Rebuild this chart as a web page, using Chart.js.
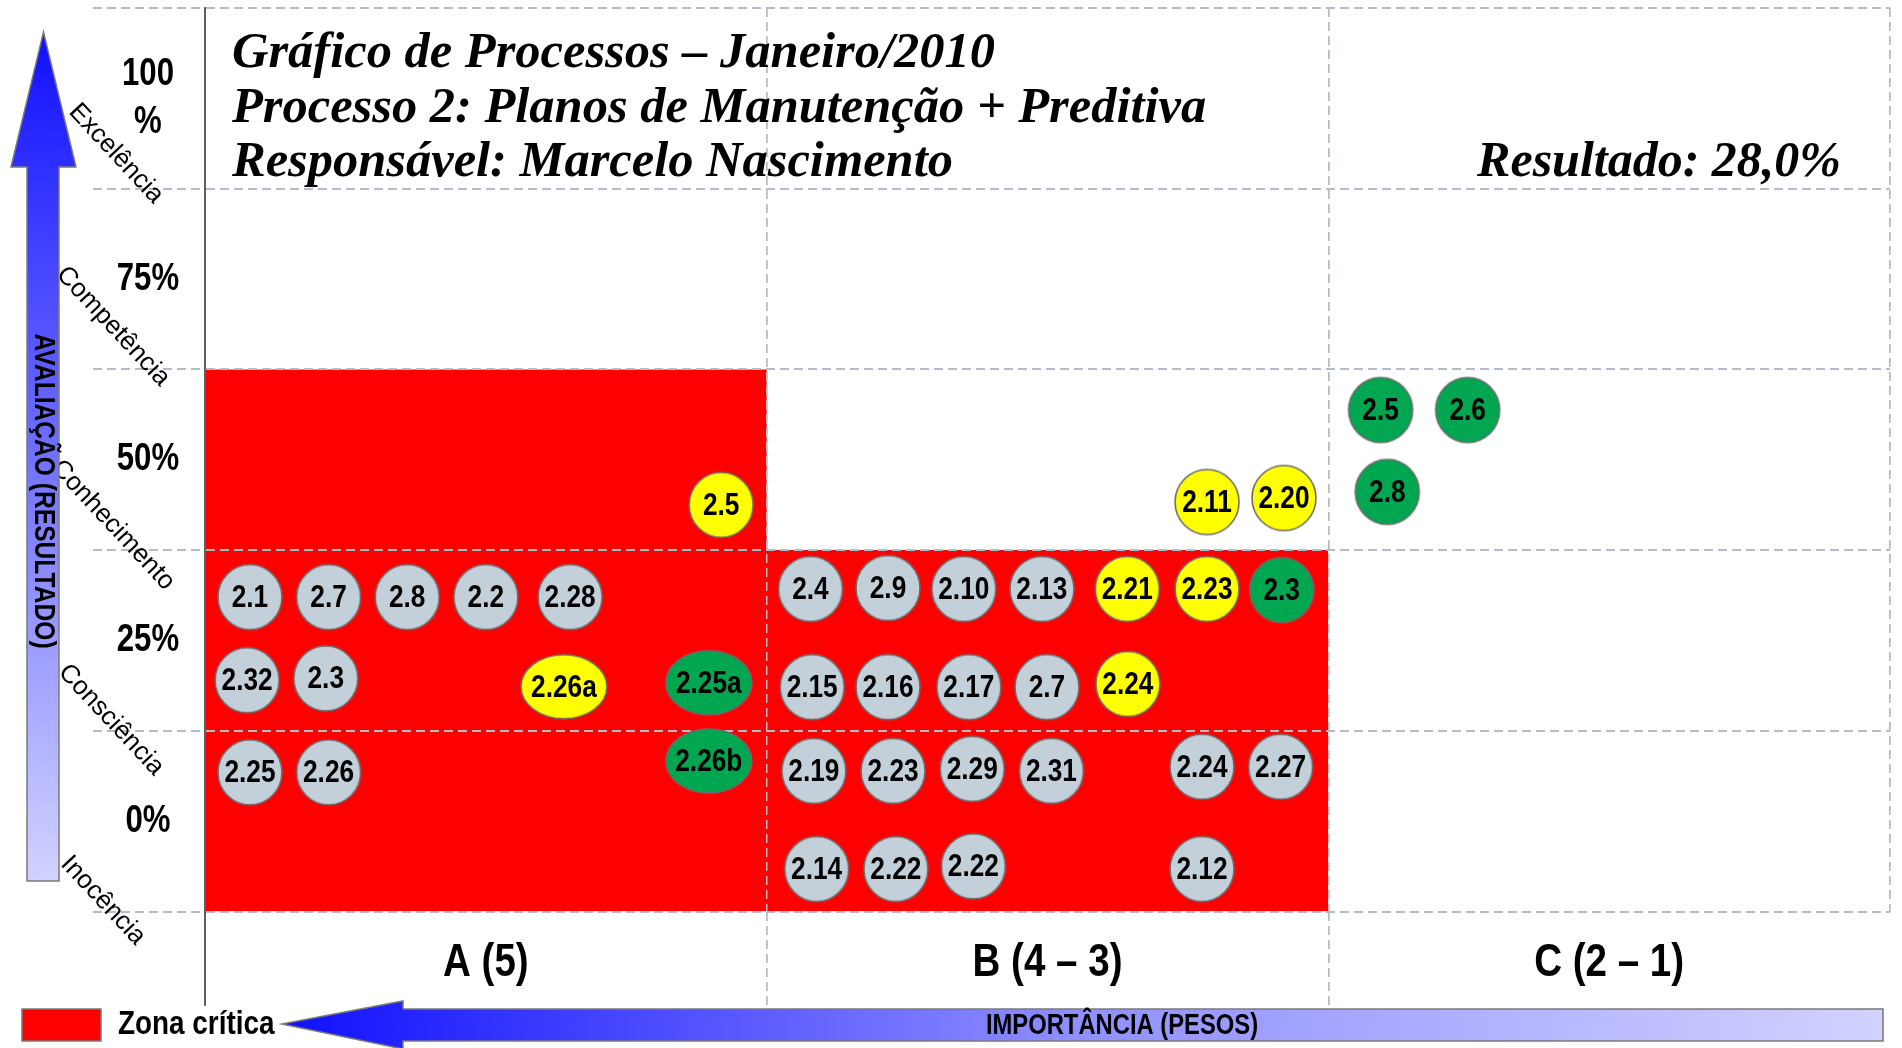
<!DOCTYPE html>
<html>
<head>
<meta charset="utf-8">
<script src="https://cdn.jsdelivr.net/npm/chart.js@4.4.1/dist/chart.umd.min.js"></script>
<style>
html,body{margin:0;padding:0;background:#fff;overflow:hidden}
#wrap{width:1902px;height:1048px;position:relative}
</style>
</head>
<body>
<div id="wrap"><canvas id="c" width="1902" height="1048"></canvas></div>
<script>
// ---------------- DATA ----------------
const columns = ['A (5)', 'B (4 – 3)', 'C (2 – 1)'];
const levels = ['0%', '25%', '50%', '75%', ['100', '%']];
const levelNames = ['Inocência', 'Consciência', 'Conhecimento', 'Competência', 'Excelência'];
const criticalZoneTop = [3, 2, 0];          // bands of the critical zone per column

const titleLines = [
  'Gráfico de Processos – Janeiro/2010',
  'Processo 2: Planos de Manutenção + Preditiva',
  'Responsável: Marcelo Nascimento'
];
const resultado = 28.0;

const grayLabels = ['2.1','2.7','2.8','2.2','2.28','2.32','2.3','2.25','2.26',
  '2.4','2.9','2.10','2.13','2.15','2.16','2.17','2.7','2.19','2.23','2.29','2.31','2.24','2.27','2.14','2.22','2.22','2.12'];
const grayX = [0.08,0.22,0.36,0.50,0.65,0.075,0.215,0.08,0.22,
  1.078,1.216,1.351,1.49,1.081,1.216,1.36,1.499,1.084,1.225,1.366,1.507,1.775,1.915,1.089,1.23,1.368,1.775];
const grayY = [1.74,1.74,1.74,1.74,1.74,1.28,1.29,0.77,0.77,
  1.785,1.79,1.785,1.785,1.242,1.242,1.242,1.242,0.778,0.778,0.789,0.778,0.801,0.801,0.235,0.235,0.25,0.235];

const yellowLabels = ['2.5','2.26a','2.11','2.20','2.21','2.23','2.24'];
const yellowX = [0.919,0.639,1.784,1.921,1.642,1.784,1.643];
const yellowY = [2.25,1.244,2.266,2.288,1.785,1.785,1.259];

const greenLabels = ['2.25a','2.26b','2.3','2.5','2.6','2.8'];
const greenX = [0.897,0.897,1.917,2.093,2.248,2.105];
const greenY = [1.266,0.833,1.779,2.775,2.775,2.322];

// ---------------- STYLE ----------------
const SANS = '"Liberation Sans", Arial, sans-serif';
const SERIF = '"Liberation Serif", "Times New Roman", serif';
const NARROW_K = 0.82;                      // horizontal condensing (Arial Narrow look)
const GRID = '#b3bcc7';
const AXIS = '#5f5f5f';
const DASH = [9, 5];
const levelLabelPos = [[103, -11], [111, -11], [113, -25], [113, -43], [116, -35]];

function withCondensed(ctx, k, fn) {
  const orig = ctx.fillText;
  ctx.fillText = function (t, x, y) {
    this.save();
    this.translate(x, y);
    this.scale(k, 1);
    orig.call(this, t, 0, 0);
    this.restore();
  };
  try { fn(); } finally { ctx.fillText = orig; }
}

function bubbleImage(fill, w, h) {
  const c = document.createElement('canvas');
  c.width = w + 4; c.height = h + 4;
  const g = c.getContext('2d');
  g.beginPath();
  g.ellipse(c.width / 2, c.height / 2, w / 2, h / 2, 0, 0, Math.PI * 2);
  g.fillStyle = fill; g.fill();
  g.lineWidth = 1.6; g.strokeStyle = '#6b6b6b'; g.stroke();
  return c;
}

const groups = [
  {name: 'cinza', color: '#c3cfd9', labels: grayLabels, xs: grayX, ys: grayY},
  {name: 'amarelo', color: '#ffff00', labels: yellowLabels, xs: yellowX, ys: yellowY},
  {name: 'verde', color: '#00a650', labels: greenLabels, xs: greenX, ys: greenY}
];
groups.forEach(g => {
  g.round = bubbleImage(g.color, 64, 65);
  g.wide = bubbleImage(g.color, 86, 64);
});

const isHalf = v => Math.abs(v - Math.floor(v) - 0.5) < 1e-6;
const isInt = v => Math.abs(v - Math.round(v)) < 1e-6;

const datasets = [
  {
    type: 'line',
    label: 'Zona crítica',
    data: criticalZoneTop.map((v, i) => ({x: i, y: v})),
    stepped: 'before',
    fill: 'origin',
    backgroundColor: '#ff0000',
    borderColor: 'rgba(0,0,0,0)',
    borderWidth: 0,
    pointRadius: 0,
    order: 5
  }
].concat(groups.map(g => ({
  type: 'scatter',
  label: g.name,
  data: g.labels.map((l, i) => ({x: g.xs[i], y: g.ys[i], label: l})),
  backgroundColor: g.color,
  pointRadius: 32,
  pointStyle: (ctx) => (ctx.raw && ctx.raw.label && ctx.raw.label.length > 4) ? g.wide : g.round,
  order: 0
})));

const overlay = {
  id: 'overlay',
  beforeDraw(chart) {
    if (chart._condensedWrapped) return;
    chart._condensedWrapped = true;
    const ctx = chart.ctx;
    ['x', 'y'].forEach(id => {
      const s = chart.scales[id];
      const o = s.drawLabels.bind(s);
      s.drawLabels = (a) => withCondensed(ctx, NARROW_K, () => o(a));
    });
    if (chart.legend) {
      const lg = chart.legend;
      const o = lg.draw.bind(lg);
      lg.draw = (a) => withCondensed(ctx, NARROW_K, () => o(a));
    }
  },
  afterDatasetDraw(chart, args) {
    if (args.index === 0) {
      chart.scales.y.drawGrid(chart.chartArea);
      chart.scales.x.drawGrid(chart.chartArea);
    }
  },
  afterDatasetsDraw(chart) {
    const ctx = chart.ctx;
    ctx.save();
    ctx.font = 'bold 32px ' + SANS;
    ctx.fillStyle = '#000';
    ctx.textAlign = 'center';
    ctx.textBaseline = 'middle';
    withCondensed(ctx, NARROW_K, () => {
      chart.data.datasets.forEach((ds, di) => {
        if (ds.type !== 'scatter') return;
        const meta = chart.getDatasetMeta(di);
        meta.data.forEach((el, i) => {
          ctx.fillText(ds.data[i].label, el.x, el.y + 1);
        });
      });
    });
    ctx.restore();
  },
  afterDraw(chart) {
    const {ctx, scales: {y}} = chart;
    ctx.save();
    // Title
    ctx.fillStyle = '#000';
    ctx.font = 'italic bold 50.5px ' + SERIF;
    ctx.textAlign = 'left';
    ctx.textBaseline = 'alphabetic';
    titleLines.forEach((t, i) => ctx.fillText(t, 232, 67 + i * 54.5));
    ctx.font = 'italic bold 50px ' + SERIF;
    ctx.textAlign = 'right';
    ctx.fillText('Resultado: ' + resultado.toFixed(1).replace('.', ',') + '%', 1841, 176);

    // Level names (diagonal)
    ctx.font = '26px ' + SANS;
    ctx.textAlign = 'center';
    ctx.textBaseline = 'middle';
    levelNames.forEach((name, i) => {
      const py = y.getPixelForValue(i) + levelLabelPos[i][1];
      ctx.save();
      ctx.translate(levelLabelPos[i][0], py);
      ctx.rotate(47 * Math.PI / 180);
      ctx.fillText(name, 0, 0);
      ctx.restore();
    });

    // Vertical arrow (AVALIAÇÃO)
    let grad = ctx.createLinearGradient(0, 32, 0, 881);
    grad.addColorStop(0, '#1010ff');
    grad.addColorStop(1, '#d2d2ff');
    ctx.beginPath();
    ctx.moveTo(43.5, 32);
    ctx.lineTo(76, 167);
    ctx.lineTo(59, 167);
    ctx.lineTo(59, 881);
    ctx.lineTo(27, 881);
    ctx.lineTo(27, 167);
    ctx.lineTo(11, 167);
    ctx.closePath();
    ctx.fillStyle = grad;
    ctx.fill();
    ctx.lineWidth = 1.5;
    ctx.strokeStyle = '#7a7a7a';
    ctx.stroke();
    ctx.save();
    ctx.translate(43, 491);
    ctx.rotate(Math.PI / 2);
    ctx.font = 'bold 30px ' + SANS;
    ctx.fillStyle = '#000';
    ctx.textAlign = 'center';
    ctx.textBaseline = 'middle';
    withCondensed(ctx, NARROW_K, () => ctx.fillText('AVALIAÇÃO (RESULTADO)', 0, 0));
    ctx.restore();

    // Horizontal arrow (IMPORTÂNCIA)
    grad = ctx.createLinearGradient(282, 0, 1883, 0);
    grad.addColorStop(0, '#1010ff');
    grad.addColorStop(0.5, '#9090ff');
    grad.addColorStop(1, '#d2d2ff');
    ctx.beginPath();
    ctx.moveTo(282, 1024);
    ctx.lineTo(403, 1001);
    ctx.lineTo(403, 1009);
    ctx.lineTo(1883, 1009);
    ctx.lineTo(1883, 1041);
    ctx.lineTo(403, 1041);
    ctx.lineTo(403, 1049);
    ctx.closePath();
    ctx.fillStyle = grad;
    ctx.fill();
    ctx.strokeStyle = '#7a7a7a';
    ctx.stroke();
    ctx.font = 'bold 29px ' + SANS;
    ctx.fillStyle = '#000';
    ctx.textAlign = 'center';
    ctx.textBaseline = 'middle';
    withCondensed(ctx, NARROW_K, () => ctx.fillText('IMPORTÂNCIA (PESOS)', 1122, 1026));
    ctx.restore();
  }
};

new Chart(document.getElementById('c'), {
  type: 'scatter',
  data: {datasets},
  plugins: [overlay],
  options: {
    responsive: false,
    animation: false,
    events: [],
    layout: {autoPadding: false, padding: {left: 0, right: 12, top: 8, bottom: -4}},
    plugins: {
      tooltip: {enabled: false},
      legend: {
        display: true,
        position: 'bottom',
        align: 'start',
        labels: {
          boxWidth: 79,
          boxHeight: 32,
          padding: 22,
          color: '#000',
          font: {family: SANS, size: 34, weight: 'bold'},
          generateLabels: () => [{
            text: 'Zona crítica', fillStyle: '#ff0000', strokeStyle: '#7a7a7a',
            lineWidth: 1.5, hidden: false, datasetIndex: 0, fontColor: '#000'
          }]
        }
      }
    },
    scales: {
      x: {
        type: 'linear',
        min: 0, max: 3,
        afterBuildTicks: (s) => { s.ticks = [0, 0.5, 1, 1.5, 2, 2.5, 3].map(v => ({value: v})); },
        afterFit: (s) => { s.height = 74.5; s.paddingLeft = 0; s.paddingRight = 0; },
        ticks: {
          autoSkip: false,
          maxRotation: 0, minRotation: 0,
          padding: -71,
          color: '#000',
          font: {family: SANS, size: 47, weight: 'bold', lineHeight: 1.2},
          callback: (v) => isHalf(v) ? columns[Math.floor(v)] : ''
        },
        grid: {
          tickLength: 94,
          color: (c) => !c.tick || !isInt(c.tick.value) ? 'rgba(0,0,0,0)' : (c.tick.value === 0 ? AXIS : GRID),
          lineWidth: (c) => (c.tick && c.tick.value === 0) ? 2 : 1.5,
          tickColor: (c) => !c.tick || !isInt(c.tick.value) || c.tick.value === 3 ? 'rgba(0,0,0,0)' : (c.tick.value === 0 ? AXIS : GRID),
          tickWidth: (c) => (c.tick && c.tick.value === 0) ? 2 : 1.5,
          tickBorderDash: (c) => (c.tick && c.tick.value === 0) ? [] : DASH
        },
        border: {
          display: false,
          dash: (c) => (c.tick && c.tick.value === 0) ? [] : DASH
        }
      },
      y: {
        type: 'linear',
        min: 0, max: 5,
        afterBuildTicks: (s) => { s.ticks = [0, 0.5, 1, 1.5, 2, 2.5, 3, 3.5, 4, 4.5, 5].map(v => ({value: v})); },
        afterFit: (s) => { s.width = 205; s.paddingTop = 0; s.paddingBottom = 0; },
        ticks: {
          autoSkip: false,
          crossAlign: 'center',
          padding: -93,
          color: '#000',
          font: {family: SANS, size: 38, weight: 'bold', lineHeight: 1.25},
          callback: (v) => isHalf(v) ? levels[Math.floor(v)] : ''
        },
        grid: {
          tickLength: 112,
          color: (c) => (c.tick && isInt(c.tick.value)) ? GRID : 'rgba(0,0,0,0)',
          lineWidth: 2,
          tickColor: (c) => (c.tick && isInt(c.tick.value)) ? GRID : 'rgba(0,0,0,0)',
          tickWidth: 2,
          tickBorderDash: DASH
        },
        border: {
          display: true,
          color: AXIS,
          width: 2,
          dash: DASH
        }
      }
    }
  }
});
</script>
</body>
</html>
